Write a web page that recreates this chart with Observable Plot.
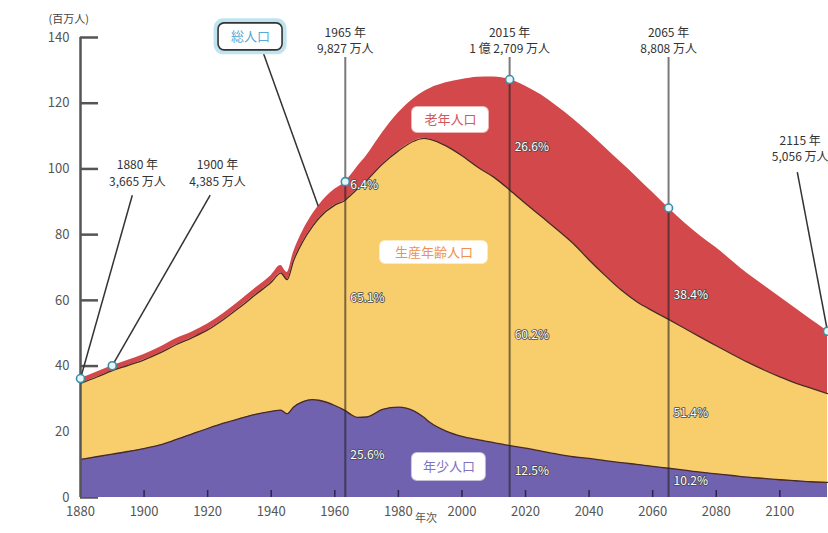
<!DOCTYPE html>
<html><head><meta charset="utf-8">
<script src="https://cdn.jsdelivr.net/npm/d3@7"></script>
<script src="https://cdn.jsdelivr.net/npm/@observablehq/plot@0.6"></script>
<style>
body{margin:0;background:#fff;}
#chart svg{display:block;font-family:"Noto Sans CJK JP","Noto Sans",sans-serif;}
</style>
</head><body><div id="chart"></div>
<script>
// ---- data (百万人) ----
const years = [1880,1885,1890,1895,1900,1905,1910,1915,1920,1925,1930,1935,1940,1943,1945,1947,1950,1953,1955,1960,1963,1965,1967,1970,1975,1980,1985,1988,1990,1995,2000,2005,2010,2015,2020,2025,2030,2035,2040,2045,2050,2055,2060,2065,2070,2075,2080,2085,2090,2095,2100,2105,2110,2115];
const young = [11.6,12.4,13.2,14.0,14.9,16.0,17.6,19.3,21.0,22.6,24.0,25.3,26.2,26.6,25.5,27.5,29.2,29.8,29.6,28.0,26.6,25.3,24.4,24.5,26.8,27.5,26.3,24.4,22.8,20.2,18.6,17.6,16.7,15.8,15.0,14.1,13.2,12.4,11.9,11.2,10.6,10.1,9.5,8.9,8.3,7.7,7.2,6.7,6.2,5.8,5.4,5.1,4.8,4.6];
const working = [23.1,24.2,25.4,26.2,27.0,28.0,28.9,29.3,30.0,31.6,33.8,36.4,39.3,41.7,40.8,44.5,48.8,52.7,55.4,61.0,63.7,66.7,69.4,72.0,74.7,78.0,82.2,84.9,86.2,86.8,85.4,82.9,80.8,77.8,74.5,71.4,68.3,64.9,60.4,56.4,52.6,49.5,47.3,45.3,43.2,41.1,39.0,36.9,34.9,33.0,31.3,29.7,28.4,27.0];
const elderly = [1.5,1.5,1.5,1.6,1.6,1.7,1.8,1.7,1.8,1.8,1.9,2.0,2.1,2.3,2.2,2.6,3.2,3.7,3.9,4.8,5.5,6.0,6.7,7.5,9.5,11.5,13.0,14.2,15.5,19.2,23.2,27.4,30.5,33.6,35.7,37.0,37.5,37.9,38.7,38.9,38.8,37.9,36.0,33.9,32.1,30.8,29.8,28.4,26.9,25.7,24.3,22.7,20.8,19.0];
const groups = ["年少人口","生産年齢人口","老年人口"];
const groupColors = ["#7062ae","#f8cd6c","#d2484b"];
const xTicks = [1880,1900,1920,1940,1960,1980,2000,2020,2040,2060,2080,2100];
const yTicks = [0,20,40,60,80,100,120,140];

// markers on the total curve (year where drawn in the picture) and their labels
const markerAt = [1880, 1890, 1963.3, 2015, 2065, 2115];
const markerLabels = ["1880 年\n3,665 万人","1900 年\n4,385 万人","1965 年\n9,827 万人","2015 年\n1 億 2,709 万人","2065 年\n8,808 万人","2115 年\n5,056 万人"];
const ruleMarkers = [2, 3, 4];        // markers drawn as vertical lines
// share labels beside the vertical lines
const shareYear = [1963.3,1963.3,1963.3,2015,2015,2015,2065,2065,2065];
const shareValue = [95.0,60.6,12.8,106.5,49.3,7.9,61.5,25.6,4.9];
const shareText = ["6.4%","65.1%","25.6%","26.6%","60.2%","12.5%","38.4%","51.4%","10.2%"];

// ---- derived ----
const interp = (arr, yr) => {
  for (let i = 0; i < years.length - 1; i++) {
    if (yr >= years[i] && yr <= years[i + 1]) {
      const t = (yr - years[i]) / (years[i + 1] - years[i]);
      return arr[i] + t * (arr[i + 1] - arr[i]);
    }
  }
  return arr[arr.length - 1];
};
const total = years.map((_, i) => young[i] + working[i] + elderly[i]);
const rows = years.flatMap((yr, i) => [
  {year: yr, group: groups[0], value: young[i]},
  {year: yr, group: groups[1], value: working[i]},
  {year: yr, group: groups[2], value: elderly[i]}
]);
const markers = markerAt.map((yr, i) => ({year: yr, value: interp(total, yr), label: markerLabels[i]}));
const shares = shareText.map((t, i) => ({year: shareYear[i], value: shareValue[i], text: t}));

// ---- layout of callouts (data-space anchors) ----
const callouts = [
  {m: 0, lx: 1897.9, ly: 99.0, sx: 1896.3, sy: 92.0},
  {m: 1, lx: 1923.1, ly: 99.0, sx: 1920.8, sy: 92.0},
  {m: 5, lx: 2106.4, ly: 106.5, sx: 2105.5, sy: 99.0}
].map(c => ({...c, label: markers[c.m].label, tx: markers[c.m].year, ty: markers[c.m].value}));
const totalBox = {x: 1933.5, y: 140.2, sx: 1937.2, sy: 136.1, tx: 1954.8};
totalBox.ty = interp(total, totalBox.tx);
const catLabels = [
  {x: 1996.4, y: 114.9, text: "老年人口", color: "#d35a5c", w: 76, h: 25},
  {x: 1991.2, y: 74.6, text: "生産年齢人口", color: "#ee9150", w: 107, h: 22},
  {x: 1995.9, y: 9.3, text: "年少人口", color: "#8173bd", w: 73, h: 27}
];

const FONT = "Noto Sans CJK JP";
const box = (d, w, h, opts) => Plot.rect([d], {x1: "x", x2: "x", y1: "y", y2: "y",
  insetLeft: -w/2, insetRight: -w/2, insetTop: -h/2, insetBottom: -h/2, rx: 5, ...opts});

const chart = Plot.plot({
  width: 828, height: 533,
  marginLeft: 80, marginRight: 1, marginTop: 37, marginBottom: 36,
  style: {fontFamily: FONT, background: "#fff", overflow: "visible"},
  x: {domain: [1880, 2115], axis: null},
  y: {domain: [0, 140], axis: null},
  color: {domain: groups, range: groupColors},
  marks: [
    // y ticks (inward, under the areas)
    Plot.ruleY(yTicks, {y: d => d, insetRight: 747 - 18, stroke: "#555", strokeWidth: 2.5}),
    Plot.areaY(rows, {x: "year", y: "value", fill: "group", order: groups, curve: "monotone-x"}),
    Plot.lineY(years, {x: d => d, y: (d, i) => young[i], stroke: "#4a2a22", strokeWidth: 1.3, curve: "monotone-x"}),
    Plot.lineY(years, {x: d => d, y: (d, i) => young[i] + working[i], stroke: "#4a2a22", strokeWidth: 1.3, curve: "monotone-x"}),
    // axis line
    Plot.ruleX([1880], {stroke: "#555", strokeWidth: 2.5}),
    // x ticks (inward)
    Plot.ruleX(xTicks.slice(1), {x: d => d, insetTop: 453, stroke: "#2b2450", strokeWidth: 1.5}),
    Plot.axisX({ticks: xTicks, tickSize: 0, tickPadding: 9, tickFormat: d => String(d), fontSize: 13, fill: "#555", label: null}),
    Plot.axisY({ticks: yTicks, tickSize: 0, tickPadding: 11, fontSize: 13, fill: "#555", label: null}),
    Plot.text(["(百万人)"], {frameAnchor: "top-left", dx: -32, dy: -22, fontSize: 11, fill: "#444"}),
    Plot.text(["年次"], {frameAnchor: "bottom", dx: -28, dy: 24, fontSize: 11, fill: "#555"}),
    // vertical marker lines
    Plot.ruleX(ruleMarkers.map(i => markers[i]), {x: "year", insetTop: 20, stroke: "#222", strokeOpacity: 0.6, strokeWidth: 2}),
    Plot.text(ruleMarkers.map(i => markers[i]), {x: "year", text: "label", frameAnchor: "top", dy: 2, lineAnchor: "middle", lineHeight: 1.36, fontSize: 12, fill: "#333"}),
    // callout leaders and labels
    Plot.link(callouts, {x1: "sx", y1: "sy", x2: "tx", y2: "ty", stroke: "#333", strokeWidth: 1.5}),
    Plot.text(callouts, {x: "lx", y: "ly", text: "label", lineAnchor: "middle", lineHeight: 1.36, fontSize: 12, fill: "#333"}),
    Plot.link([totalBox], {x1: "sx", y1: "sy", x2: "tx", y2: "ty", stroke: "#333", strokeWidth: 1.5}),
    box(totalBox, 68, 31, {fill: "none", stroke: "#bfe3f0", strokeWidth: 5, rx: 7}),
    box(totalBox, 64, 27, {fill: "#fff", stroke: "#333", strokeWidth: 1.6, rx: 6}),
    Plot.text([totalBox], {x: "x", y: "y", text: () => "総人口", fontSize: 13, fill: "#5aa8d6"}),
    // markers
    Plot.dot(markers, {x: "year", y: "value", r: 4, stroke: "#3a8ea6", strokeWidth: 1.6, fill: "#e8f5f8"}),
    // category labels
    ...catLabels.map(c => box(c, c.w, c.h, {fill: "#fff", stroke: "#fff", strokeOpacity: 0.6, strokeWidth: 2})),
    Plot.text(catLabels, {x: "x", y: "y", text: "text", fill: "color", fontSize: 13}),
    // shares
    Plot.text(shares, {x: "year", y: "value", text: "text", textAnchor: "start", dx: 5, fontSize: 12, fill: "#fff", stroke: "#4a4a4a", strokeWidth: 1.6})
  ]
});
document.getElementById("chart").appendChild(chart);
</script>
</body></html>
